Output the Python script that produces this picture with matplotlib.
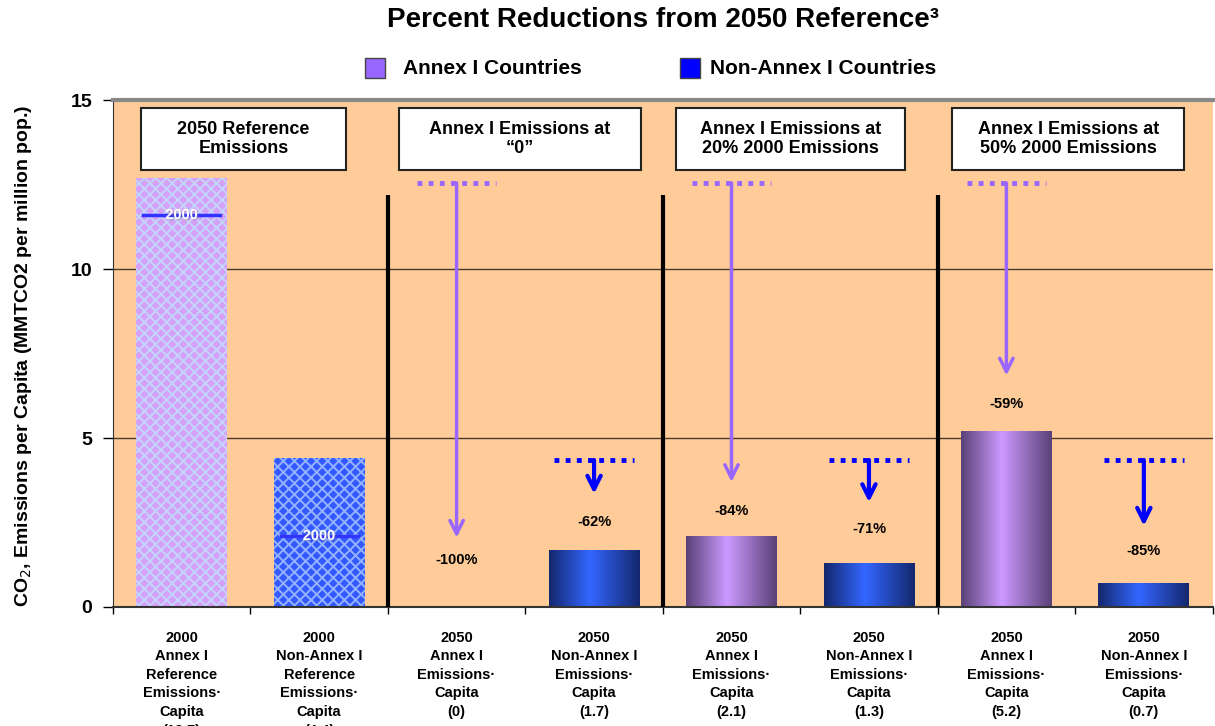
import matplotlib.pyplot as plt
import matplotlib.patheffects as pe
from matplotlib.patches import Rectangle
from matplotlib.colors import LinearSegmentedColormap
import numpy as np

plt.rcParams['font.family'] = ['Liberation Sans', 'DejaVu Sans']
plt.rcParams['hatch.linewidth'] = 1.4

# Dados do grafico
rotulos = [
    "2000\nAnnex I\nReference\nEmissions·\nCapita\n(12.7)",
    "2000\nNon-Annex I\nReference\nEmissions·\nCapita\n(4.4)",
    "2050\nAnnex I\nEmissions·\nCapita\n(0)",
    "2050\nNon-Annex I\nEmissions·\nCapita\n(1.7)",
    "2050\nAnnex I\nEmissions·\nCapita\n(2.1)",
    "2050\nNon-Annex I\nEmissions·\nCapita\n(1.3)",
    "2050\nAnnex I\nEmissions·\nCapita\n(5.2)",
    "2050\nNon-Annex I\nEmissions·\nCapita\n(0.7)",
]
grupos = ['annex', 'non', 'annex', 'non', 'annex', 'non', 'annex', 'non']
valores = [12.7, 4.4, 0.0, 1.7, 2.1, 1.3, 5.2, 0.7]
nivel_2000 = [11.6, 2.1]                   # marcas "2000" nas duas primeiras barras
nivel_ref = {'annex': 12.55, 'non': 4.35}  # linhas pontilhadas (referencia 2050)
reducoes = [None, None, "-100%", "-62%", "-84%", "-71%", "-59%", "-85%"]
y_reducao = [None, None, 1.4, 2.5, 2.85, 2.3, 6.0, 1.65]
ponta_seta = [None, None, 2.05, 3.35, 3.7, 3.1, 6.85, 2.4]
titulos_caixa = ["2050 Reference\nEmissions", "Annex I Emissions at\n\u201c0\u201d",
                 "Annex I Emissions at\n20% 2000 Emissions", "Annex I Emissions at\n50% 2000 Emissions"]
centro_caixa = [0.45, 2.46, 4.43, 6.45]
largura_caixa = [1.49, 1.76, 1.67, 1.69]
separadores = [1.5, 3.5, 5.5]

cores_seta = {'annex': '#9966FF', 'non': '#0000FF'}
cmaps = {
    'annex': LinearSegmentedColormap.from_list('roxo', ['#5A4278', '#CC99FF', '#5A4278']),
    'non': LinearSegmentedColormap.from_list('azul', ['#14286E', '#3366FF', '#14286E']),
}

fig = plt.figure(figsize=(12.15, 7.26), dpi=100)
ax = fig.add_axes([0.093, 0.164, 0.905, 0.698])
ax.set_facecolor('#FFCC99')
ax.set_xlim(-0.5, 7.5)
ax.set_ylim(0, 15)

# grade
for g in [5, 10]:
    ax.axhline(g, color='#4A3B2A', lw=1, zorder=1)

x = np.arange(len(valores))
barras = ax.bar(x, valores, width=0.66, color='none', linewidth=0, zorder=2)

# barras de referencia 2000 (padrao), restantes com gradiente
padrao = {0: ('#D4A0F8', '#C4D4FC'), 1: ('#3358FF', '#93B2FF')}
gradiente = np.concatenate([np.linspace(0, 0.5, 45), np.linspace(0.5, 1, 55)]).reshape(1, -1)
for i, b in enumerate(barras):
    if valores[i] <= 0:
        continue
    if i in padrao:
        b.set_facecolor(padrao[i][0])
        b.set_edgecolor(padrao[i][1])
        b.set_hatch('xxx')
        b.set_linewidth(0)
    else:
        x0 = b.get_x()
        im = ax.imshow(gradiente, extent=[x0, x0 + b.get_width(), 0, valores[i]],
                       cmap=cmaps[grupos[i]], aspect='auto', zorder=2)
        im.set_clip_path(b)
ax.set_xlim(-0.5, 7.5)
ax.set_ylim(0, 15)

# marcas "2000"
for i, v in enumerate(nivel_2000):
    ax.plot([i - 0.28, i + 0.28], [v, v], color='#3333FF', lw=2.5, zorder=3)
    ax.text(i, v, "2000", color='white', fontsize=10.5, fontweight='bold', ha='center', va='center',
            zorder=4, path_effects=[pe.withSimplePatchShadow(offset=(1, -1), shadow_rgbFace='#777777')])

# separadores
for s in separadores:
    ax.plot([s, s], [0, 12.2], color='black', lw=3, zorder=3, solid_capstyle='butt')

# linhas de referencia, setas e percentagens
for i in range(2, len(valores)):
    g = grupos[i]
    ref = nivel_ref[g]
    ax.plot([i - 0.29, i + 0.29], [ref, ref], color=cores_seta[g], lw=3.5, ls=(0, (1, 1.3)), zorder=3)
    ax.annotate('', xy=(i, ponta_seta[i]), xytext=(i, ref),
                arrowprops=dict(arrowstyle='->', color=cores_seta[g],
                                lw=2.5 if g == 'annex' else 3, mutation_scale=24, shrinkA=0, shrinkB=0),
                zorder=3)
    ax.text(i, y_reducao[i], reducoes[i], ha='center', va='center', fontsize=10.5, fontweight='bold', zorder=4)

# caixas de titulo
for c, w, t in zip(centro_caixa, largura_caixa, titulos_caixa):
    ax.add_patch(Rectangle((c - w / 2, 12.93), w, 1.83, facecolor='white', edgecolor='#222222',
                           lw=1.5, zorder=5))
    ax.text(c, 13.85, t, ha='center', va='center', fontsize=13, fontweight='bold',
            linespacing=1.2, zorder=6)

# eixos
ax.set_yticks([0, 5, 10, 15])
ax.set_yticklabels(['0', '5', '10', '15'], fontsize=14, fontweight='bold')
ax.tick_params(axis='y', length=7, width=1, pad=8)
ax.set_xticks(x)
ax.set_xticklabels(rotulos, fontsize=10.5, fontweight='bold', linespacing=1.42)
ax.tick_params(axis='x', which='major', length=0, pad=17)
ax.set_xticks(np.arange(-0.5, 8, 1), minor=True)
ax.tick_params(axis='x', which='minor', length=5, width=1)
ax.spines['top'].set_color('#888888')
ax.spines['top'].set_linewidth(3)
ax.spines['right'].set_visible(False)
ax.spines['left'].set_color('#333333')
ax.spines['bottom'].set_color('#333333')
ax.spines['bottom'].set_linewidth(1.5)

fig.text(0.019, 0.51, "CO$_2$, Emissions per Capita (MMTCO2 per million pop.)", rotation=90,
         ha='center', va='center', fontsize=14, fontweight='bold')

# titulo e legenda
fig.text(0.546, 0.972, "Percent Reductions from 2050 Reference\u00b3", ha='center', va='center',
         fontsize=20, fontweight='bold')
fig.patches.append(Rectangle((0.300, 0.893), 0.0165, 0.027, transform=fig.transFigure,
                             facecolor='#9966FF', edgecolor='#444444', lw=1))
fig.text(0.332, 0.906, "Annex I Countries", ha='left', va='center', fontsize=15, fontweight='bold')
fig.patches.append(Rectangle((0.560, 0.893), 0.0165, 0.027, transform=fig.transFigure,
                             facecolor='#0000FF', edgecolor='#444444', lw=1))
fig.text(0.584, 0.906, "Non-Annex I Countries", ha='left', va='center', fontsize=15, fontweight='bold')

fig.savefig('out.png', dpi=100)
